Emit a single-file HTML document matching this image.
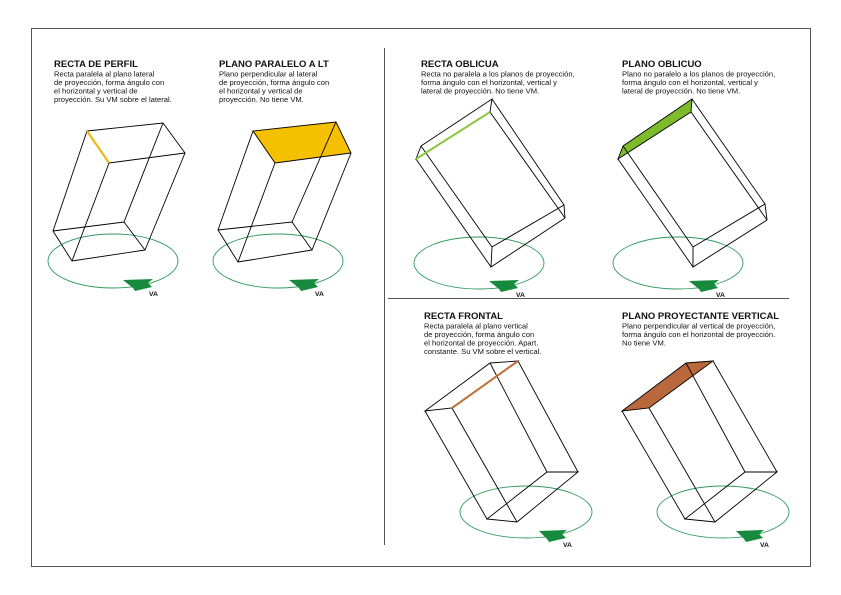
<!DOCTYPE html>
<html><head><meta charset="utf-8"><style>
html,body{margin:0;padding:0;background:#fff;}
svg{display:block;}
text{font-family:"Liberation Sans",Arial,sans-serif;fill:#111;}
.t{font-weight:bold;font-size:9.5px;}
.b{font-size:7.6px;}
.va{font-weight:bold;font-size:6.8px;}
.e{fill:none;stroke:#000;stroke-width:0.9;}
.el{fill:none;stroke:#2e9a5e;stroke-width:0.9;}
.ar{fill:#188a3e;}
</style></head><body>
<svg width="841" height="595" viewBox="0 0 841 595" xmlns="http://www.w3.org/2000/svg">
<rect x="31.5" y="28.5" width="779" height="538" fill="none" stroke="#555" stroke-width="1"/>
<line x1="384.5" y1="48" x2="384.5" y2="545" stroke="#555" stroke-width="1"/>
<line x1="388" y1="298.5" x2="789" y2="298.5" stroke="#555" stroke-width="1"/>

<text class="t" x="54" y="67">RECTA DE PERFIL</text>
<text class="b" x="54" y="76.5">Recta paralela al plano lateral</text>
<text class="b" x="54" y="85">de proyección, forma ángulo con</text>
<text class="b" x="54" y="93.5">el horizontal y vertical de</text>
<text class="b" x="54" y="102">proyección. Su VM sobre el lateral.</text>

<text class="t" x="219" y="67">PLANO PARALELO A LT</text>
<text class="b" x="219" y="76.5">Plano perpendicular al lateral</text>
<text class="b" x="219" y="85">de proyección, forma ángulo con</text>
<text class="b" x="219" y="93.5">el horizontal y vertical de</text>
<text class="b" x="219" y="102">proyección. No tiene VM.</text>

<text class="t" x="421" y="67">RECTA OBLICUA</text>
<text class="b" x="421" y="76.5">Recta no paralela a los planos de proyección,</text>
<text class="b" x="421" y="85">forma ángulo con el horizontal, vertical y</text>
<text class="b" x="421" y="93.5">lateral de proyección. No tiene VM.</text>

<text class="t" x="622" y="67">PLANO OBLICUO</text>
<text class="b" x="622" y="76.5">Plano no paralelo a los planos de proyección,</text>
<text class="b" x="622" y="85">forma ángulo con el horizontal, vertical y</text>
<text class="b" x="622" y="93.5">lateral de proyección. No tiene VM.</text>

<text class="t" x="424" y="319">RECTA FRONTAL</text>
<text class="b" x="424" y="328.5">Recta paralela al plano vertical</text>
<text class="b" x="424" y="337">de proyección, forma ángulo con</text>
<text class="b" x="424" y="345.5">el horizontal de proyección. Apart.</text>
<text class="b" x="424" y="354">constante. Su VM sobre el vertical.</text>

<text class="t" x="622" y="319">PLANO PROYECTANTE VERTICAL</text>
<text class="b" x="622" y="328.5">Plano perpendicular al vertical de proyección,</text>
<text class="b" x="622" y="337">forma ángulo con el horizontal de proyección.</text>
<text class="b" x="622" y="345.5">No tiene VM.</text>

<g>
<ellipse class="el" cx="113" cy="261" rx="65" ry="27"/>
<polygon class="ar" points="123,280 153,279 148,283 152,287 135,291 133,288"/>
<text class="va" x="149" y="296">VA</text>

<ellipse class="el" cx="278" cy="261" rx="65" ry="27"/>
<polygon class="ar" points="289,280 319,279 314,283 318,287 301,291 299,288"/>
<text class="va" x="315" y="296">VA</text>

<ellipse class="el" cx="479" cy="263" rx="65" ry="26"/>
<polygon class="ar" points="489,281 519,280 514,284 518,288 501,292 499,289"/>
<text class="va" x="516" y="297">VA</text>

<ellipse class="el" cx="678" cy="263" rx="65" ry="26"/>
<polygon class="ar" points="689,281 719,280 714,284 718,288 701,292 699,289"/>
<text class="va" x="716" y="297">VA</text>

<ellipse class="el" cx="526" cy="512" rx="66" ry="26"/>
<polygon class="ar" points="539,531 567,530 562,534 566,538 549,542 547,539"/>
<text class="va" x="563" y="547">VA</text>

<ellipse class="el" cx="723" cy="512" rx="66" ry="26"/>
<polygon class="ar" points="736,531 764,530 759,534 763,538 746,542 744,539"/>
<text class="va" x="760" y="547">VA</text>
</g>

<g class="e">
<polygon points="87,131 163,123 185,153 109,163"/>
<line x1="87" y1="131" x2="53" y2="231"/>
<line x1="163" y1="123" x2="124" y2="222"/>
<line x1="185" y1="153" x2="145" y2="250"/>
<line x1="109" y1="163" x2="72" y2="261"/>
<polygon points="53,231 124,222 145,250 72,261"/>
</g>
<line x1="87" y1="131" x2="109" y2="163" stroke="#f0b400" stroke-width="2"/>

<polygon points="253,131 336,122 351,153 275,163" fill="#f5c000" stroke="#000" stroke-width="0.9"/>
<g class="e">
<line x1="253" y1="131" x2="218" y2="230"/>
<line x1="336" y1="122" x2="292" y2="222"/>
<line x1="351" y1="153" x2="312" y2="250"/>
<line x1="275" y1="163" x2="238" y2="262"/>
<polygon points="218,230 292,222 312,250 238,262"/>
</g>

<g class="e">
<polygon points="421,146 492,99 490,112 416,159"/>
<line x1="421" y1="146" x2="492" y2="247"/>
<line x1="416" y1="159" x2="491" y2="267"/>
<line x1="492" y1="99" x2="564" y2="205"/>
<line x1="490" y1="112" x2="565" y2="218"/>
<polygon points="492,247 564,205 565,218 491,267"/>
</g>
<line x1="416" y1="159" x2="490" y2="112" stroke="#8cc63f" stroke-width="2"/>

<polygon points="623,146 692,99 691,112 618,159" fill="#7dbb2a" stroke="#000" stroke-width="0.9"/>
<g class="e">
<line x1="623" y1="146" x2="693" y2="247"/>
<line x1="618" y1="159" x2="693" y2="267"/>
<line x1="692" y1="99" x2="765" y2="204"/>
<line x1="691" y1="112" x2="767" y2="220"/>
<polygon points="693,247 765,204 767,220 693,267"/>
</g>

<g class="e">
<polygon points="425,411 490,363 518,361 452,408"/>
<line x1="425" y1="411" x2="487" y2="519"/>
<line x1="452" y1="408" x2="517" y2="522"/>
<line x1="518" y1="361" x2="578" y2="472"/>
<line x1="490" y1="363" x2="547" y2="472"/>
<polygon points="487,519 517,522 578,472 547,472"/>
</g>
<line x1="452" y1="408" x2="518" y2="361" stroke="#c0703a" stroke-width="2"/>

<polygon points="622,411 686,363 713,361 649,408" fill="#b8683a" stroke="#000" stroke-width="0.9"/>
<g class="e">
<line x1="622" y1="411" x2="685" y2="519"/>
<line x1="649" y1="408" x2="715" y2="522"/>
<line x1="713" y1="361" x2="777" y2="472"/>
<line x1="686" y1="363" x2="745" y2="472"/>
<polygon points="685,519 715,522 777,472 745,472"/>
</g>
</svg>
</body></html>
